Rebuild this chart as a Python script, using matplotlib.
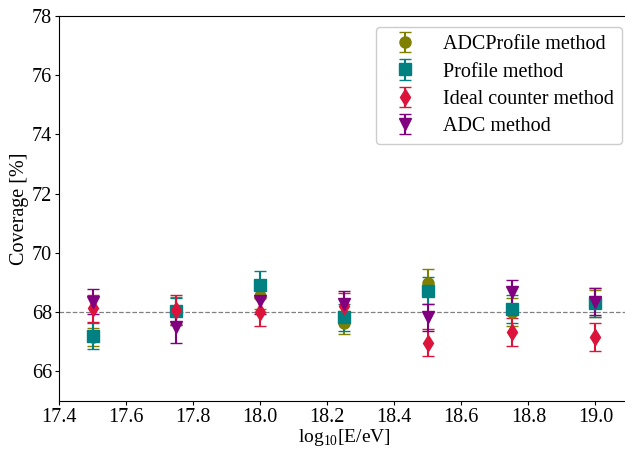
import matplotlib
matplotlib.use("Agg")
import matplotlib.pyplot as plt

plt.rcParams['font.family'] = ['Liberation Serif', 'DejaVu Serif']
plt.rcParams['mathtext.fontset'] = 'custom'
plt.rcParams['mathtext.rm'] = 'Liberation Serif'

# energies
energy = [17.5, 17.75, 18.0, 18.25, 18.5, 18.75, 19.0]

# coverage values [%] and errors
adcprofile = [67.15, 68.05, 68.55, 67.65, 69.0, 68.0, 68.3]
adcprofile_err = [0.3, 0.45, 0.45, 0.4, 0.45, 0.47, 0.45]

profile = [67.2, 68.03, 68.93, 67.82, 68.72, 68.11, 68.31]
profile_err = [0.45, 0.45, 0.45, 0.45, 0.46, 0.46, 0.49]

ideal = [68.13, 68.07, 68.01, 68.2, 66.97, 67.33, 67.15]
ideal_err = [0.45, 0.5, 0.48, 0.45, 0.46, 0.47, 0.47]

adc = [68.35, 67.49, 68.38, 68.29, 67.82, 68.69, 68.35]
adc_err = [0.42, 0.53, 0.45, 0.43, 0.46, 0.4, 0.45]

fig = plt.figure(figsize=(6.25, 4.49), dpi=100)
ax = fig.add_axes([59 / 625, 48 / 449, 570 / 625, 385 / 449])

ax.axhline(68, color='gray', linestyle='--', linewidth=0.9, zorder=0)

ax.errorbar(energy, adcprofile, yerr=adcprofile_err, fmt='o', color='olive',
            markersize=8, capsize=4, label='ADCProfile method')
ax.errorbar(energy, profile, yerr=profile_err, fmt='s', color='teal',
            markersize=8, capsize=4, label='Profile method')
ax.errorbar(energy, ideal, yerr=ideal_err, fmt='d', color='crimson',
            markersize=8, capsize=4, label='Ideal counter method')
ax.errorbar(energy, adc, yerr=adc_err, fmt='v', color='purple',
            markersize=8, capsize=4, label='ADC method')

ax.set_xlim(17.4, 19.1)
ax.set_ylim(65, 78)
ax.set_yticks([66, 68, 70, 72, 74, 76, 78])
ax.set_xticks([17.4, 17.6, 17.8, 18.0, 18.2, 18.4, 18.6, 18.8, 19.0])
ax.tick_params(labelsize=14.5, length=3, pad=2)
ax.set_xlabel(r'log$_{10}$[E/eV]', fontsize=14, labelpad=0)
ax.set_ylabel('Coverage [%]', fontsize=14.5, labelpad=2)
ax.legend(loc='upper right', fontsize=14.5, framealpha=1, edgecolor='#cccccc',
          labelspacing=0.4, handletextpad=0.9,
          bbox_to_anchor=(1.005, 0.997))

fig.savefig('out.png', dpi=100)
